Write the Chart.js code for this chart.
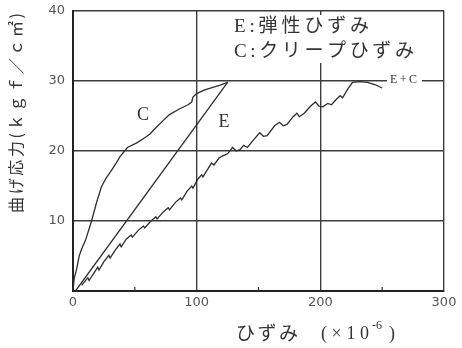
<!DOCTYPE html>
<html>
<head>
<meta charset="utf-8">
<script src="https://cdn.jsdelivr.net/npm/chart.js@4.4.1/dist/chart.umd.min.js"></script>
<style>
  html, body { margin: 0; padding: 0; background: #fff; }
  #wrap { width: 462px; height: 348px; position: relative; }
</style>
</head>
<body>
<div id="wrap"><canvas id="chart"></canvas></div>
<script>
// Axis ticks
const xTicks = [0, 100, 200, 300];
const yTicks = [0, 10, 20, 30, 40];

// E: elastic strain (straight loading line)
const elasticX = [2, 125];
const elasticY = [0, 29.8];

// C: creep strain
const creepX = [0, 1, 3, 5, 7, 10, 12, 15, 19, 23, 27, 31, 35, 38, 44, 52, 58, 62, 68, 72, 78, 86, 93, 96, 97, 100, 106, 113, 119, 125];
const creepY = [0, 1.8, 3.2, 5, 6, 7.2, 8.3, 10, 12.6, 14.9, 16.2, 17.2, 18.3, 19.2, 20.5, 21.2, 21.9, 22.4, 23.5, 24.2, 25.2, 26.0, 26.6, 27.0, 27.7, 28.2, 28.7, 29.1, 29.4, 29.8];

// E+C: total strain (serrated record)
const totalX = [7, 12, 13, 17, 20, 21, 25, 29, 30, 34, 38, 39, 43, 47, 48, 53, 57, 58, 63, 67, 68, 73, 77, 78, 83, 87, 88, 92, 96, 97, 101, 104, 105, 109, 112, 114, 118, 121, 125, 129, 132, 135, 138, 141, 146, 151, 154, 157, 163, 167, 170, 173, 178, 181, 183, 187, 192, 196, 199, 202, 206, 209, 213, 216, 218, 222, 226, 232, 238, 244, 250];
const totalY = [0.8, 1.9, 1.5, 2.6, 3.4, 3.0, 4.2, 5.1, 4.7, 5.8, 6.7, 6.3, 7.4, 8.0, 7.7, 8.7, 9.3, 9.0, 10.0, 10.6, 10.3, 11.3, 11.9, 11.6, 12.7, 13.3, 13.0, 14.2, 15.0, 14.7, 16.0, 16.6, 16.3, 17.4, 18.3, 18.0, 19.0, 19.3, 19.6, 20.5, 20.0, 20.2, 20.8, 20.5, 21.6, 22.6, 22.1, 22.2, 23.6, 24.1, 23.6, 23.8, 24.9, 25.4, 24.9, 25.4, 26.4, 27.0, 26.4, 26.3, 26.8, 26.6, 27.4, 27.9, 27.6, 28.8, 29.8, 29.9, 29.8, 29.5, 29.0];

const zip = (xs, ys) => xs.map((x, i) => ({ x: x, y: ys[i] }));

const lineColor = '#2e2e2e';
const tickColor = '#555';
const textColor = '#333';

function lineSet(data) {
  return {
    data: data,
    showLine: true,
    borderColor: lineColor,
    borderWidth: 1.3,
    pointRadius: 0,
    tension: 0,
    fill: false
  };
}

// draw text stretched to a given width by letter spacing
function fitText(ctx, text, x, y, width) {
  ctx.letterSpacing = '0px';
  const w = ctx.measureText(text).width;
  const n = [...text].length;
  const ls = n > 1 ? (width - w) / (n - 1) : 0;
  ctx.letterSpacing = ls + 'px';
  ctx.fillText(text, x, y);
  ctx.letterSpacing = '0px';
}

const notes = {
  id: 'notes',
  beforeDatasetsDraw(chart) {
    const ctx = chart.ctx;
    ctx.save();
    ctx.fillStyle = '#fff';
    // blank panel behind the key text
    ctx.fillRect(232, 15, 150, 48);
    // gap in the 30 line for the E+C tag
    ctx.fillRect(387, 74, 35, 13);
    ctx.restore();
  },
  afterDatasetsDraw(chart) {
    const ctx = chart.ctx;
    const xs = chart.scales.x, ys = chart.scales.y;
    ctx.save();

    // minor ticks on the strain axis
    ctx.strokeStyle = lineColor;
    ctx.lineWidth = 1.2;
    [50, 150, 250].forEach(v => {
      const px = xs.getPixelForValue(v);
      ctx.beginPath();
      ctx.moveTo(px, ys.bottom);
      ctx.lineTo(px, ys.bottom - 4);
      ctx.stroke();
    });

    ctx.fillStyle = textColor;
    ctx.textBaseline = 'middle';
    ctx.textAlign = 'left';

    // key
    ctx.font = "19px 'Liberation Serif', 'Noto Sans CJK JP'";
    fitText(ctx, 'E:弾性ひずみ', 234, 27, 135);
    fitText(ctx, 'C:クリープひずみ', 234, 52, 180);

    // curve labels
    ctx.font = "18px 'Liberation Serif'";
    ctx.textAlign = 'center';
    ctx.fillText('C', 143, 115);
    ctx.fillText('E', 224, 122);
    ctx.textAlign = 'left';
    ctx.font = "12px 'Liberation Serif'";
    fitText(ctx, 'E+C', 390, 80, 27);

    // x-axis title
    ctx.font = "19px 'Noto Sans CJK JP'";
    fitText(ctx, 'ひずみ', 236, 333, 62);
    ctx.font = "18px 'Liberation Serif', 'Noto Sans CJK JP'";
    fitText(ctx, '(×10', 321, 334, 48);
    ctx.font = "12px 'Liberation Serif'";
    ctx.fillText('-6', 372, 326);
    ctx.font = "18px 'Liberation Serif'";
    ctx.fillText(')', 389, 334);

    // y-axis title
    ctx.save();
    ctx.translate(16, 213);
    ctx.rotate(-Math.PI / 2);
    ctx.font = "16px 'Noto Sans CJK JP'";
    fitText(ctx, '曲げ応力(ｋｇｆ／ｃ㎡)', 0, 0, 200);
    ctx.restore();

    ctx.restore();
  }
};

new Chart(document.getElementById('chart'), {
  type: 'scatter',
  data: {
    datasets: [
      lineSet(zip(elasticX, elasticY)),
      lineSet(zip(creepX, creepY)),
      lineSet(zip(totalX, totalY))
    ]
  },
  options: {
    responsive: true,
    maintainAspectRatio: false,
    animation: false,
    layout: { padding: { left: 0, right: 18, top: 11, bottom: 0 } },
    plugins: { legend: { display: false }, tooltip: { enabled: false } },
    scales: {
      x: {
        type: 'linear',
        min: 0, max: 300,
        afterBuildTicks: s => { s.ticks = xTicks.map(v => ({ value: v })); },
        afterFit: s => { s.height = 57; s.paddingLeft = 0; s.paddingRight = 0; },
        ticks: { color: tickColor, font: { family: 'DejaVu Sans', size: 13 }, padding: 4, maxRotation: 0 },
        grid: { color: '#3c3c3c', lineWidth: 1.4, drawTicks: false },
        border: { display: true, color: '#222', width: 2 }
      },
      y: {
        type: 'linear',
        min: 0, max: 40,
        afterBuildTicks: s => { s.ticks = yTicks.map(v => ({ value: v })); },
        afterFit: s => { s.width = 73; s.paddingTop = 0; s.paddingBottom = 0; },
        ticks: { color: tickColor, font: { family: 'DejaVu Sans', size: 13 }, padding: 8,
                 callback: v => (v === 0 ? '' : v) },
        grid: { color: '#3c3c3c', lineWidth: 1.4, drawTicks: false },
        border: { display: true, color: '#222', width: 2 }
      }
    }
  },
  plugins: [notes]
});
</script>
</body>
</html>
